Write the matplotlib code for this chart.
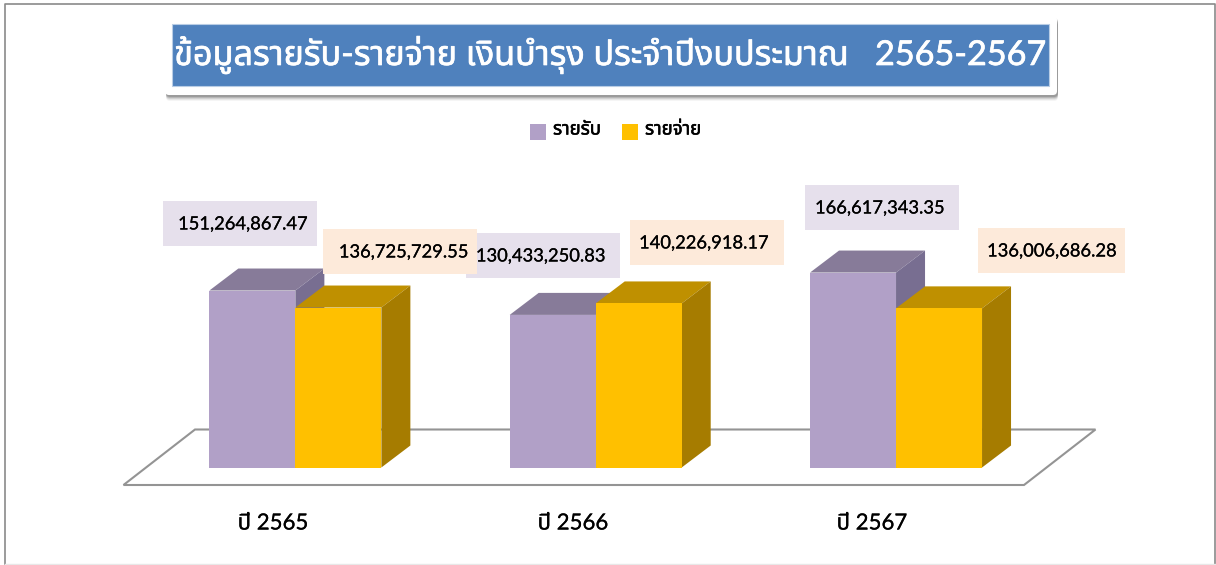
import matplotlib
matplotlib.use("Agg")
import matplotlib.pyplot as plt
from matplotlib.patches import Polygon, Rectangle, FancyBboxPatch
from matplotlib.lines import Line2D
from matplotlib.transforms import Affine2D
import matplotlib.patheffects as pe

# ---- data ----
years = ["ปี 2565", "ปี 2566", "ปี 2567"]
income = [151264867.47, 130433250.83, 166617343.35]
expense = [136725729.55, 140226918.17, 136006686.28]
series_names = ["รายรับ", "รายจ่าย"]
title_text = "ข้อมูลรายรับ-รายจ่าย เงินบำรุง ประจำปีงบประมาณ   2565-2567"

FONT = ["Lato", "Noto Sans Thai", "DejaVu Sans"]
W, H = 1216, 565
fig = plt.figure(figsize=(W / 100, H / 100), dpi=100, facecolor="white")

# chart axes: 3 categories over 901 px, baseline at y=467.5 px, 1.17 px per million
ax_l, ax_r, ax_b, ax_t = 145.2, 1046.2, 467.5, 167.5
ax = fig.add_axes([ax_l / W, 1 - ax_b / H, (ax_r - ax_l) / W, (ax_b - ax_t) / H])
ax.set_xlim(-0.5, 2.5)
ax.set_ylim(0, 300 / 1.17 * 1e6)
ax.axis("off")

# pixel transform (origin top-left) for decoration
px = Affine2D().scale(1, -1).translate(0, H)


def add_px(p):
    p.set_transform(px)
    p.set_clip_on(False)
    ax.add_patch(p)
    return p


def text_px(x, y, s, **kw):
    kw.setdefault("family", FONT)
    kw.setdefault("ha", "center")
    kw.setdefault("va", "center")
    return ax.text(x, y, s, transform=px, clip_on=False, **kw)


def line_px(xs, ys, color, lw):
    ax.add_line(Line2D(xs, ys, transform=px, color=color, lw=lw, clip_on=False, zorder=0.5))


# outer frame: dark on three sides, very faint along the bottom
line_px([5, 5, 1214.5, 1214.5], [564, 4, 4, 564], "#8a8a8a", 1.2)
line_px([5, 1214.5], [564, 564], "#e8e8e8", 1.0)

# floor
add_px(Polygon([(123.5, 485), (1024, 485), (1095.5, 429.5), (195, 429.5)], closed=True,
               fc="white", ec="#949494", lw=1.5, zorder=1))

# bars
bar_w = 86 / 300.33
dx = 29 / 300.33
dy = 22 / 1.17 * 1e6
palette = [("#B1A0C7", "#877B99", "#786E91"), ("#FFC000", "#BF9000", "#A67C00")]


def bar3d(x0, value, colors, z):
    front, top, side = colors
    x1 = x0 + bar_w
    ax.add_patch(Polygon([(x0, value), (x1, value), (x1 + dx, value + dy), (x0 + dx, value + dy)],
                         fc=top, ec="none", zorder=z))
    ax.add_patch(Polygon([(x1, 0), (x1 + dx, dy), (x1 + dx, value + dy), (x1, value)],
                         fc=side, ec="none", zorder=z))
    ax.add_patch(Rectangle((x0, 0), bar_w, value, fc=front, ec="none", zorder=z))


for i in range(len(years)):
    bar3d(i - bar_w, income[i], palette[0], 2)
    bar3d(i, expense[i], palette[1], 3)

# data label boxes
income_boxes = [(163, 201, 154, 45), (466, 233, 154, 45), (805, 185, 154, 45)]
expense_boxes = [(323, 229, 154, 45), (630, 220, 154, 45), (978, 228, 147, 45)]
income_text_x = [243, 541, 880]
expense_text_x = [404, 704, 1052]
med = [pe.withStroke(linewidth=0.15, foreground="black")]
for boxes, vals, tx, col in [(income_boxes, income, income_text_x, "#E6E0EC"),
                             (expense_boxes, expense, expense_text_x, "#FDEADA")]:
    for b, v, x in zip(boxes, vals, tx):
        add_px(Rectangle((b[0], b[1]), b[2], b[3], fc=col, ec="none", zorder=5))
        text_px(x, b[1] + 23.5, f"{v:,.2f}", fontsize=13.2, color="black", zorder=6, path_effects=med)

# category labels
for x, s in zip([273, 573, 872], years):
    text_px(x, 523.5, s, fontsize=16, color="black", zorder=6, path_effects=med)

# legend
add_px(Rectangle((530, 124), 16, 16, fc=palette[0][0], ec="none", zorder=6))
add_px(Rectangle((622, 124), 16, 16, fc=palette[1][0], ec="none", zorder=6))
bold = [pe.withStroke(linewidth=0.4, foreground="black")]
text_px(553, 129, series_names[0], fontsize=13.4, ha="left", color="black", zorder=6, path_effects=bold)
text_px(645, 129, series_names[1], fontsize=13.4, ha="left", color="black", zorder=6, path_effects=bold)

# title card with soft shadow
for off, a in [(6, 0.04), (5, 0.06), (4, 0.09), (3, 0.12), (2, 0.15)]:
    add_px(FancyBboxPatch((165 + 1, 16 + off), 892, 79, boxstyle="round,pad=0,rounding_size=4",
                          fc="black", ec="none", alpha=a, zorder=7))
add_px(FancyBboxPatch((165, 16), 892, 79, boxstyle="round,pad=0,rounding_size=4",
                      fc="white", ec="none", zorder=8))
add_px(Rectangle((172, 24), 877, 62, fc="#4F81BD", ec="#B9CDE5", lw=0.8, zorder=9))
text_px(610, 55, title_text, fontsize=24.6, color="white", zorder=10,
        path_effects=[pe.withStroke(linewidth=0.5, foreground="white")])

fig.savefig("out.png", dpi=100)
